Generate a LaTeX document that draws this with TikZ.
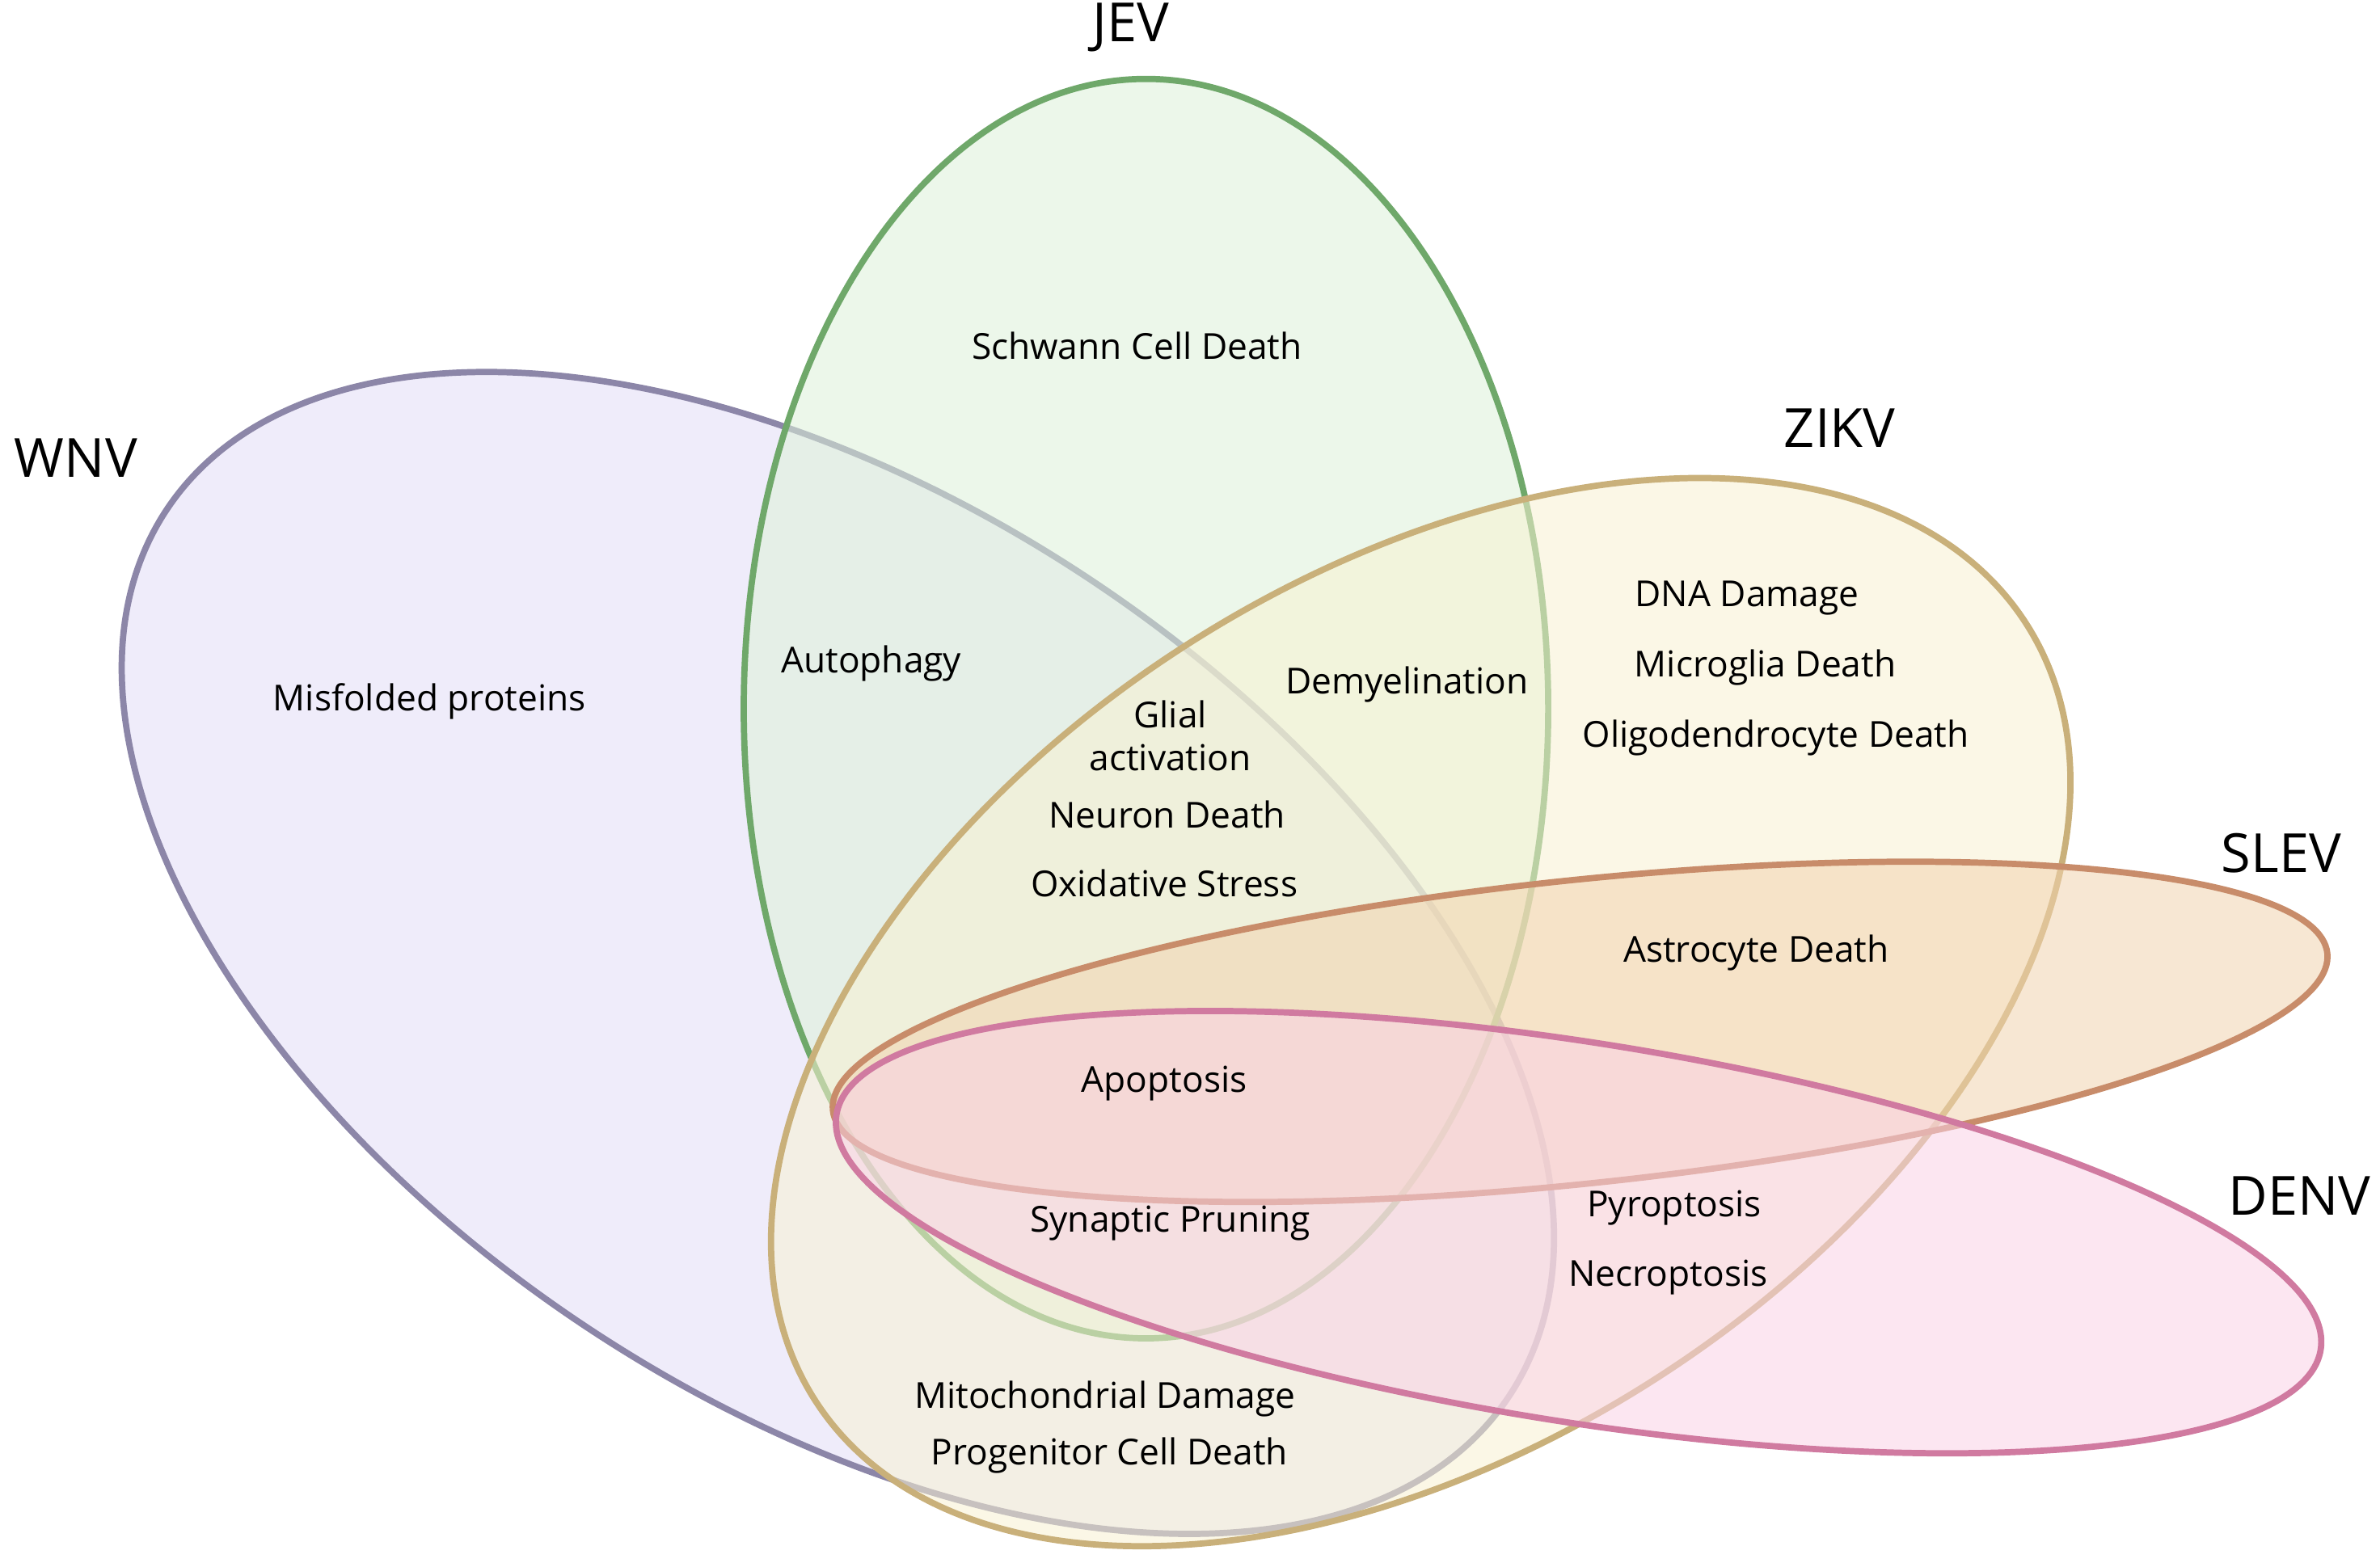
\documentclass[tikz,border=0pt]{standalone}
\usepackage{fontspec}
\setmainfont{Open Sans}
\begin{document}
\begin{tikzpicture}[x=0.018776cm,y=-0.018776cm,
 lab/.style={font=\fontsize{12.6}{15}\selectfont,align=center},
 ttl/.style={font=\fontsize{19}{22}\selectfont},
 set/.style={line width=2.2pt,fill opacity=0.55}]
\useasboundingbox (0,0) rectangle (1568,1030);
\fill[white] (0,0) rectangle (1568,1030);
\definecolor{wnvF}{HTML}{E3DEF7}\definecolor{wnvD}{HTML}{8C86A8}
\definecolor{jevF}{HTML}{DDF2D9}\definecolor{jevD}{HTML}{6FA86A}
\definecolor{zikF}{HTML}{F8F2D2}\definecolor{zikD}{HTML}{C9B07A}
\definecolor{slvF}{HTML}{F2D4B0}\definecolor{slvD}{HTML}{C88C6A}
\definecolor{denF}{HTML}{FAD2E6}\definecolor{denD}{HTML}{D07AA0}
\path[set,fill=wnvF,draw=wnvD] (552,628) ellipse [x radius=530,y radius=297,rotate=-33.4];
\path[set,fill=jevF,draw=jevD] (755,467) ellipse [x radius=265,y radius=415];
\path[set,fill=zikF,draw=zikD] (936,667) ellipse [x radius=474,y radius=287,rotate=32.7];
\path[set,fill=slvF,draw=slvD] (1041,680) ellipse [x radius=495,y radius=100,rotate=6];
\path[set,fill=denF,draw=denD] (1040,812) ellipse [x radius=495,y radius=125,rotate=-9];
\node[ttl] (t1) at (745,18) {JEV};
\node[ttl] (t2) at (50,302) {WNV};
\node[ttl] (t3) at (1212,282) {ZIKV};
\node[ttl] (t4) at (1503,562) {SLEV};
\node[ttl] (t5) at (1515,788) {DENV};
\node[lab] (a1) at (749,228) {Schwann Cell Death};
\node[lab] (a2) at (283,462) {Misfolded proteins};
\node[lab] (a3) at (574,437) {Autophagy};
\node[lab] (a4) at (927,451) {Demyelination};
\node[lab] (a5) at (771,485) {Glial\\activation};
\node[lab] (a6) at (769,537) {Neuron Death};
\node[lab] (a7) at (767,582) {Oxidative Stress};
\node[lab] (a8) at (1151,394) {DNA Damage};
\node[lab] (a9) at (1163,440) {Microglia Death};
\node[lab] (a10) at (1170,486) {Oligodendrocyte Death};
\node[lab] (a11) at (1157,628) {Astrocyte Death};
\node[lab] (a12) at (767,714) {Apoptosis};
\node[lab] (a13) at (771,806) {Synaptic Pruning};
\node[lab] (a14) at (1103,796) {Pyroptosis};
\node[lab] (a15) at (1099,842) {Necroptosis};
\node[lab] (a16) at (728,922) {Mitochondrial Damage};
\node[lab] (a17) at (731,959) {Progenitor Cell Death};
\end{tikzpicture}
\end{document}
